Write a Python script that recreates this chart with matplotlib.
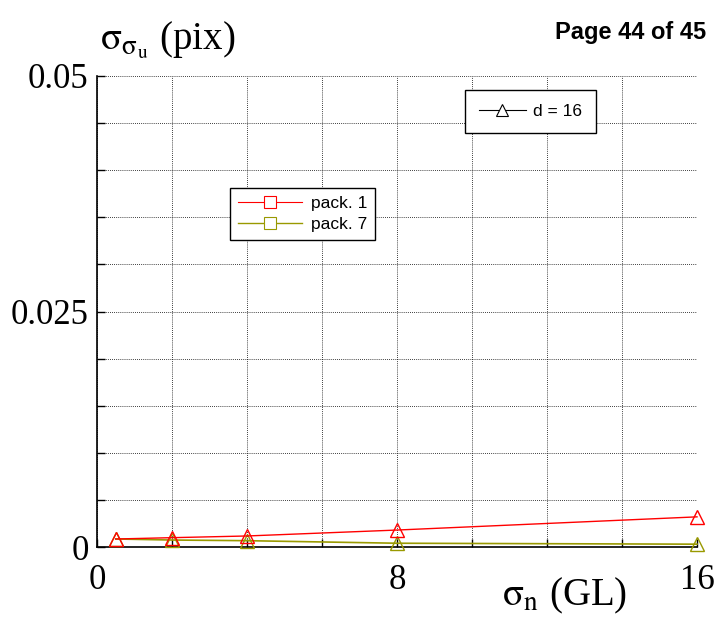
import matplotlib
matplotlib.use("Agg")
import matplotlib.pyplot as plt
from matplotlib.lines import Line2D

plt.rcParams['mathtext.fontset'] = 'stix'

sigma_n = [0.5, 2, 4, 8, 16]
pack1 = [0.00085, 0.00099, 0.00117, 0.0018, 0.0032]
pack7 = [0.00085, 0.00074, 0.00067, 0.0004, 0.0003]
xticks = [0, 2, 4, 6, 8, 10, 12, 14, 16]
xticklabels = ['0', '', '', '', '8', '', '', '', '16']
yticks = [0, 0.005, 0.01, 0.015, 0.02, 0.025, 0.03, 0.035, 0.04, 0.045, 0.05]
yticklabels = ['0', '', '', '', '', '0.025', '', '', '', '', '0.05']

red = '#ff0000'
olive = '#999900'

fig = plt.figure(figsize=(7.2, 6.36), dpi=100)
ax = fig.add_axes([97/720, 1-547/636, 600/720, 471/636])

ax.plot(sigma_n, pack1, color=red, lw=1, marker='^', ms=10, mfc='none', mec=red, mew=1, clip_on=False, zorder=4)
ax.plot(sigma_n, pack7, color=olive, lw=1.2, marker='^', ms=10, mfc='none', mec=olive, mew=1, clip_on=False, zorder=3)

ax.set_xlim(0, 16)
ax.set_ylim(0, 0.05)
ax.set_xticks(xticks)
ax.set_xticklabels(xticklabels)
ax.set_yticks(yticks)
ax.set_yticklabels(yticklabels)
for lab in ax.get_xticklabels() + ax.get_yticklabels():
    lab.set_fontfamily('Liberation Serif')
    lab.set_fontsize(25)
ax.tick_params(direction='in', length=6, width=1, color='black')
ax.tick_params(axis='x', pad=12)
ax.tick_params(axis='y', pad=6)
ax.grid(True, color='black', linestyle=(0, (1, 1.5)), linewidth=0.6)
for s in ['top', 'right']:
    ax.spines[s].set_visible(False)
for s in ['left', 'bottom']:
    ax.spines[s].set_linewidth(1.2)

h1 = [Line2D([], [], color='black', lw=0.8, marker='^', ms=9, mfc='white', mec='black', mew=0.8)]
leg1 = ax.legend(h1, ['d = 16'], loc='upper left', bbox_to_anchor=((465-97)/600, (547-90)/471),
                 frameon=True, fancybox=False, edgecolor='black', framealpha=1,
                 prop={'family': 'Liberation Sans', 'size': 12.5}, handlelength=2.7,
                 borderpad=0.8, handletextpad=0.4, borderaxespad=0)
leg1.get_frame().set_linewidth(1)
ax.add_artist(leg1)

h2 = [Line2D([], [], color=red, lw=0.8, marker='s', ms=9, mfc='white', mec=red, mew=0.8),
      Line2D([], [], color=olive, lw=1, marker='s', ms=9, mfc='white', mec=olive, mew=0.8)]
leg2 = ax.legend(h2, ['pack. 1', 'pack. 7'], loc='upper left', bbox_to_anchor=((230-97)/600, (547-188)/471),
                 frameon=True, fancybox=False, edgecolor='black', framealpha=1,
                 prop={'family': 'Liberation Sans', 'size': 12.5}, handlelength=3.7,
                 borderpad=0.45, handletextpad=0.5, labelspacing=0.35, borderaxespad=0)
leg2.get_frame().set_linewidth(1)

fig.text(100/720, 1-50/636, r'$\mathrm{\sigma_{\sigma_u}}$ (pix)', fontsize=28,
         family='Liberation Serif', ha='left', va='baseline')
fig.text(502/720, 1-605/636, r'$\mathrm{\sigma_n}$ (GL)', fontsize=28,
         family='Liberation Serif', ha='left', va='baseline')
fig.text(706/720, 1-39/636, 'Page 44 of 45', fontsize=17, fontweight='bold',
         family='Liberation Sans', ha='right', va='baseline')

fig.savefig('out.png', dpi=100)
